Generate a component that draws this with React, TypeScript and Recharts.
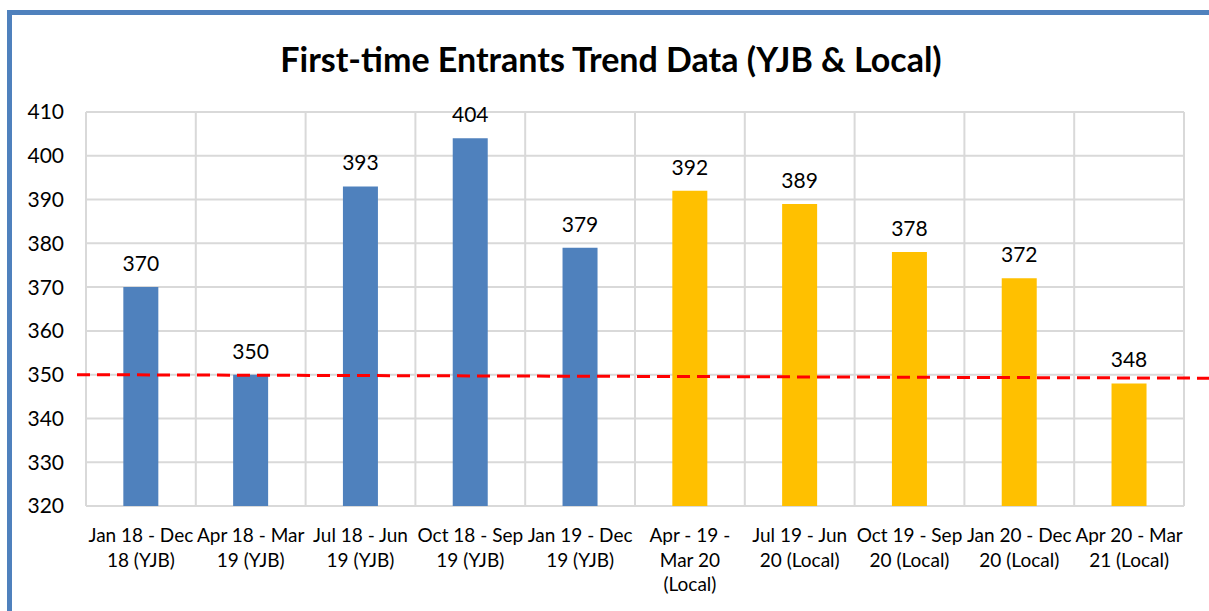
import React from 'react';
import { BarChart, Bar, XAxis, YAxis, CartesianGrid, Cell, LabelList, ReferenceLine } from 'recharts';

const periods = [
    "Jan 18 - Dec\n18 (YJB)",
    "Apr 18 - Mar\n19 (YJB)",
    "Jul 18 - Jun\n19 (YJB)",
    "Oct 18 - Sep\n19 (YJB)",
    "Jan 19 - Dec\n19 (YJB)",
    "Apr - 19 -\nMar 20\n(Local)",
    "Jul 19 - Jun\n20 (Local)",
    "Oct 19 - Sep\n20 (Local)",
    "Jan 20 - Dec\n20 (Local)",
    "Apr 20 - Mar\n21 (Local)",
];
const entrants = [370, 350, 393, 404, 379, 392, 389, 378, 372, 348];
const sources = ["YJB", "YJB", "YJB", "YJB", "YJB", "Local", "Local", "Local", "Local", "Local"];
const yTicks = [320, 330, 340, 350, 360, 370, 380, 390, 400, 410];
const baseline = 350;

const sourceColors: Record<string, string> = { YJB: "#4F81BD", Local: "#FFC000" };
const FONT = "Lato, 'Open Sans', sans-serif";

const chartData = periods.map((p, i) => ({ period: p, value: entrants[i], source: sources[i] }));

const PeriodTick = (props: any) => {
    const { x, y, payload } = props;
    const lines = String(payload.value).split("\n");
    return (
        <text x={x} y={y} textAnchor="middle" fill="#000" fontSize={19} fontFamily={FONT}>
            {lines.map((l, i) => (
                <tspan key={i} x={x} dy={i === 0 ? 28 : 24.5}>{l}</tspan>
            ))}
        </text>
    );
};

const DashedBaseline = (props: any) => {
    const { x1, y1, x2 } = props;
    return (
        <line x1={x1 - 9} y1={y1} x2={x2 + 26} y2={y1 + 3.5}
            stroke="#FF0000" strokeWidth={3} strokeDasharray="13 7" />
    );
};

export default function App() {
    return (
        <div style={{ position: "fixed", left: 0, top: 0, width: 1209, height: 611, overflow: "hidden", background: "#fff" }}>
            <div style={{
                position: "absolute", left: 7, top: 10, width: 1260, height: 700,
                borderLeft: "5px solid #4F81BD", borderTop: "5px solid #4F81BD",
            }} />
            <div style={{
                position: "absolute", left: 0, top: 38, width: 1222, textAlign: "center",
                fontFamily: FONT, fontWeight: 700, fontSize: 34, lineHeight: "42px", color: "#000",
            }}>
                First-time Entrants Trend Data (YJB &amp; Local)
            </div>
            <div style={{ position: "absolute", left: 0, top: 0 }}>
                <BarChart width={1209} height={611} data={chartData}
                    margin={{ top: 112, right: 25, bottom: 0, left: 0 }} barCategoryGap="34%">
                    <CartesianGrid stroke="#D9D9D9" strokeWidth={2}
                        verticalCoordinatesGenerator={({ offset }: any) =>
                            Array.from({ length: periods.length + 1 }, (_, i) => offset.left + (i * offset.width) / periods.length)}
                    />
                    <XAxis dataKey="period" interval={0} height={105} tickLine={false}
                        axisLine={false} tick={<PeriodTick />} />
                    <YAxis domain={[320, 410]} ticks={yTicks} width={86} tickLine={false} axisLine={false}
                        tickMargin={16} tick={{ fill: "#000", fontSize: 21, fontFamily: FONT }} />
                    <Bar dataKey="value" isAnimationActive={false}>
                        {chartData.map((d, i) => (
                            <Cell key={i} fill={sourceColors[d.source]} />
                        ))}
                        <LabelList dataKey="value" position="top" offset={16}
                            style={{ fill: "#000", fontSize: 21, fontFamily: FONT }} />
                    </Bar>
                    <ReferenceLine y={baseline} ifOverflow="visible" shape={<DashedBaseline />} />
                </BarChart>
            </div>
        </div>
    );
}
